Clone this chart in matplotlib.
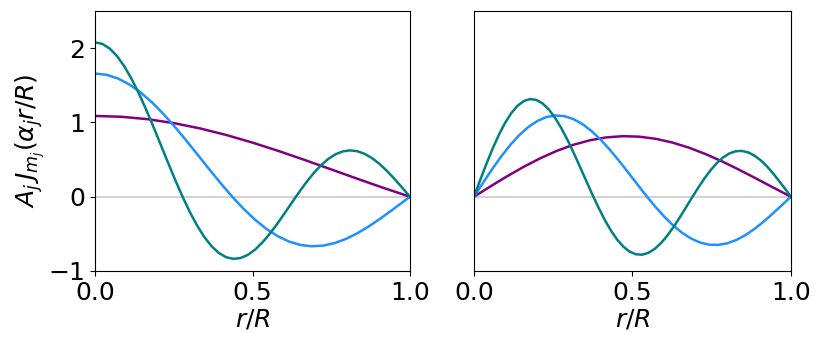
import numpy as np
import matplotlib
matplotlib.use("Agg")
import matplotlib.pyplot as plt

# tabulated Bessel values (x = alpha * r/R)
x0 = [0.0, 0.2, 0.4, 0.6, 0.8, 1.0, 1.2, 1.4, 1.6, 1.8, 2.0, 2.2, 2.4, 2.6, 2.8,
      3.0, 3.2, 3.4, 3.6, 3.8, 4.0, 4.2, 4.4, 4.6, 4.8, 5.0, 5.2, 5.4, 5.6, 5.8,
      6.0, 6.2, 6.4, 6.6, 6.8, 7.0, 7.2, 7.4, 7.6, 7.8, 8.0, 8.2, 8.4, 8.6]
j0 = [1.0, 0.9900, 0.9604, 0.9120, 0.8463, 0.7652, 0.6711, 0.5669, 0.4554,
      0.3400, 0.2239, 0.1104, 0.0025, -0.0968, -0.1850, -0.2601, -0.3202,
      -0.3643, -0.3918, -0.4026, -0.3971, -0.3766, -0.3423, -0.2961, -0.2404,
      -0.1776, -0.1103, -0.0412, 0.0270, 0.0917, 0.1506, 0.2017, 0.2433,
      0.2740, 0.2931, 0.3001, 0.2951, 0.2786, 0.2516, 0.2154, 0.1717, 0.1222,
      0.0692, 0.0146]

x1 = [0.0, 0.2, 0.4, 0.6, 0.8, 1.0, 1.2, 1.4, 1.6, 1.8, 2.0, 2.2, 2.4, 2.6, 2.8,
      3.0, 3.2, 3.4, 3.6, 3.8, 4.0, 4.2, 4.4, 4.6, 4.8, 5.0, 5.2, 5.4, 5.6, 5.8,
      6.0, 6.2, 6.4, 6.6, 6.8, 7.0, 7.2, 7.4, 7.6, 7.8, 8.0, 8.2, 8.4, 8.6, 8.8,
      9.0, 9.2, 9.4, 9.6, 9.8, 10.0]
j1 = [0.0, 0.0995, 0.1960, 0.2867, 0.3688, 0.4401, 0.4983, 0.5419, 0.5699,
      0.5815, 0.5767, 0.5560, 0.5202, 0.4708, 0.4097, 0.3391, 0.2613, 0.1792,
      0.0955, 0.0128, -0.0660, -0.1386, -0.2028, -0.2566, -0.2985, -0.3276,
      -0.3432, -0.3453, -0.3343, -0.3110, -0.2767, -0.2329, -0.1816, -0.1250,
      -0.0652, -0.0047, 0.0543, 0.1096, 0.1592, 0.2014, 0.2346, 0.2580, 0.2708,
      0.2728, 0.2641, 0.2453, 0.2174, 0.1816, 0.1392, 0.0919, 0.0435]

# zeros alpha_j and amplitudes A_j for each panel
alpha_m0 = [2.405, 5.520, 8.654]
amp_m0 = [1.087, 1.658, 2.078]
alpha_m1 = [3.832, 7.016, 10.173]
amp_m1 = [1.401, 1.880, 2.260]

colors = ["purple", "dodgerblue", "teal"]

fig = plt.figure(figsize=(8.22, 3.48), dpi=100)
ax1 = fig.add_axes([0.1156, 0.2213, 0.3832, 0.7471])
ax2 = fig.add_axes([0.5766, 0.2213, 0.3856, 0.7471])


def draw(ax, xs, js, alphas, amps):
    xs = np.array(xs)
    js = np.array(js)
    ax.axhline(0, color="lightgray", lw=1.5, zorder=1)
    for a, A, c in zip(alphas, amps, colors):
        keep = xs < a
        r = np.append(xs[keep] / a, 1.0)
        y = A * np.append(js[keep], 0.0)
        ax.plot(r, y, color=c, lw=1.8, zorder=2)
    ax.set_xlim(0, 1)
    ax.set_ylim(-1, 2.5)
    ax.set_xticks([0, 0.5, 1.0])
    ax.set_xticklabels(["0.0", "0.5", "1.0"])
    ax.tick_params(labelsize=18)
    ax.set_xlabel("$r/R$", fontsize=18, labelpad=2)


draw(ax1, x0, j0, alpha_m0, amp_m0)
draw(ax2, x1, j1, alpha_m1, amp_m1)

ax1.set_yticks([-1, 0, 1, 2])
ax1.set_ylabel(r"$A_j\,J_{m_j}(\alpha_j r/R)$", fontsize=18, labelpad=1)
ax2.set_yticks([])

fig.savefig("out.png", dpi=100)
